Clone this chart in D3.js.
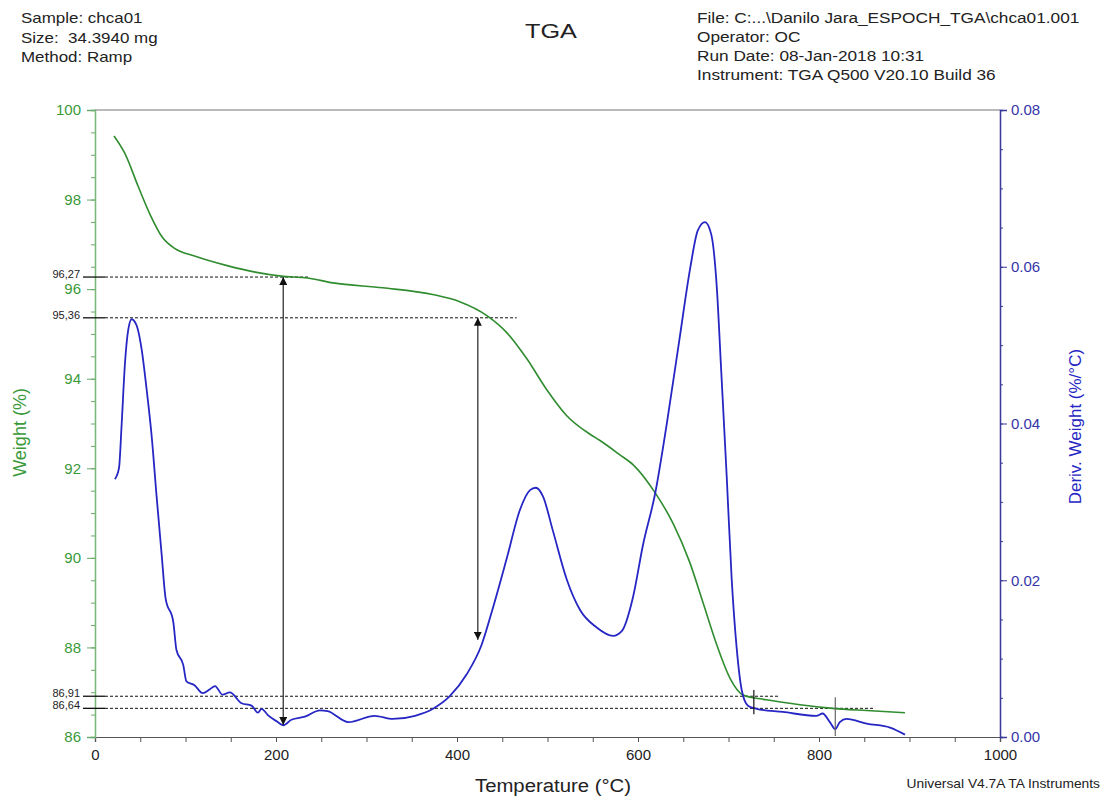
<!DOCTYPE html>
<html>
<head>
<meta charset="utf-8">
<script src="https://cdn.jsdelivr.net/npm/d3@7"></script>
<style>
  body { margin: 0; background: #fff; }
  svg { font-family: "Liberation Sans", Arial, sans-serif; }
</style>
</head>
<body>
<svg width="1108" height="798"></svg>
<script>
// weight curve (temperature °C, weight %)
var tgaTemp = [21, 33, 48, 61, 74, 88, 110, 147, 177, 206, 235, 263, 318, 373, 403, 433, 455, 477, 499, 521, 547, 558, 580, 595, 619, 639, 657, 672, 687, 702, 716, 742, 779, 815, 853, 895];
var tgaWeight = [99.42, 99.03, 98.28, 97.66, 97.17, 96.91, 96.74, 96.52, 96.38, 96.29, 96.25, 96.14, 96.03, 95.88, 95.72, 95.41, 95.03, 94.45, 93.76, 93.18, 92.76, 92.62, 92.30, 92.07, 91.45, 90.76, 89.91, 88.99, 88.06, 87.30, 86.94, 86.83, 86.72, 86.64, 86.59, 86.54];

// derivative curve (temperature °C, %/°C)
var dtgTemp = [22, 26.5, 29.5, 33, 36.8, 40.5, 46, 51.5, 57, 62.6, 68, 73.7, 78, 86.5, 90, 97.5, 101, 110, 119, 127, 132.6, 141, 149, 162, 173, 180, 184, 191, 200.7, 208, 217, 232, 248.6, 257, 280, 309, 329, 353.6, 373.5, 392, 410.7, 427, 440, 455, 469.6, 480.7, 487, 495, 506, 521, 536, 554, 572.5, 582, 594.6, 605.5, 619, 631.7, 646, 657.5, 666, 674, 681, 687, 692, 698, 703.5, 709, 714.6, 721.5, 731, 760, 797, 804, 812, 818, 823, 830.5, 852.7, 878.5, 895];
var dtgValue = [0.0329, 0.0343, 0.0400, 0.0475, 0.0520, 0.0533, 0.0525, 0.0495, 0.0444, 0.0384, 0.0308, 0.0232, 0.0177, 0.0147, 0.0111, 0.0092, 0.0071, 0.0066, 0.0056, 0.0061, 0.0065, 0.0054, 0.0057, 0.0043, 0.0040, 0.0031, 0.0036, 0.0028, 0.0020, 0.0015, 0.0022, 0.0026, 0.0034, 0.0033, 0.0019, 0.0027, 0.0023, 0.0027, 0.0036, 0.0052, 0.0080, 0.0117, 0.0166, 0.0228, 0.0290, 0.0315, 0.0318, 0.0307, 0.0263, 0.0202, 0.0162, 0.0140, 0.0129, 0.0135, 0.0179, 0.0245, 0.0311, 0.0399, 0.0509, 0.0597, 0.0646, 0.0657, 0.0641, 0.0575, 0.0466, 0.0333, 0.0202, 0.0114, 0.0060, 0.0040, 0.0036, 0.0032, 0.0027, 0.0030, 0.0019, 0.0010, 0.0019, 0.0023, 0.0017, 0.0012, 0.0003];

var xTicks = [0, 200, 400, 600, 800, 1000];
var weightTicks = [86, 88, 90, 92, 94, 96, 98, 100];
var derivTicks = [0.00, 0.02, 0.04, 0.06, 0.08];

// horizontal reference levels (weight %)
var levelValues = [96.27, 95.36, 86.91, 86.64];
var levelLabels = ["96,27", "95,36", "86,91", "86,64"];
var levelEnds = [237, 466, 757, 862];

// double arrows (temperature, from weight, to weight)
var arrowTemp = [208, 423];
var arrowFrom = [96.27, 95.36];
var arrowTo = [86.27, 88.17];

// vertical onset markers (temperature, top weight, bottom weight)
var markerTemp = [728, 818];
var markerTop = [87.05, 86.89];
var markerBottom = [86.51, 86.02];

var headerLeft = ["Sample: chca01", "Size:  34.3940 mg", "Method: Ramp"];
var headerRight = ["File: C:...\\Danilo Jara_ESPOCH_TGA\\chca01.001", "Operator: OC", "Run Date: 08-Jan-2018 10:31", "Instrument: TGA Q500 V20.10 Build 36"];

var green = "#2f8c2f", greenText = "#3a9a3a", blue = "#2626c4";

var svg = d3.select("svg"),
    margin = {top: 110, right: 108, bottom: 61, left: 95},
    width = +svg.attr("width") - margin.left - margin.right,
    height = +svg.attr("height") - margin.top - margin.bottom,
    g = svg.append("g").attr("transform", "translate(" + margin.left + "," + margin.top + ")");

var x = d3.scaleLinear().domain([0, 1000]).range([0, width]);
var yW = d3.scaleLinear().domain([86, 100]).range([height, 0]);
var yD = d3.scaleLinear().domain([0, 0.08]).range([height, 0]);

// header (the printout is a little stretched sideways)
svg.selectAll(".hl").data(headerLeft).enter().append("text")
    .attr("transform", function(d, i) { return "translate(21," + (23 + i * 19.5) + ") scale(1.13,1)"; })
    .attr("font-size", "15px").attr("fill", "#222").style("white-space", "pre")
    .text(function(d) { return d; });
svg.selectAll(".hr").data(headerRight).enter().append("text")
    .attr("transform", function(d, i) { return "translate(697," + (23 + i * 19) + ") scale(1.15,1)"; })
    .attr("font-size", "15px").attr("fill", "#222")
    .text(function(d) { return d; });
svg.append("text").attr("transform", "translate(551,38) scale(1.2,1)").attr("text-anchor", "middle")
    .attr("font-size", "21px").attr("fill", "#222").text("TGA");

// top frame
g.append("line").attr("x1", 0).attr("x2", width).attr("y1", 0).attr("y2", 0)
    .attr("stroke", "#777").attr("stroke-width", 1.2);

// bottom axis
var xMinor = g.append("g").attr("transform", "translate(0," + height + ")")
    .call(d3.axisBottom(x).tickValues(d3.range(0, 1001, 50)).tickSize(5).tickFormat(""));
var xAxis = g.append("g").attr("transform", "translate(0," + height + ")")
    .call(d3.axisBottom(x).tickValues(xTicks).tickSize(5).tickFormat(d3.format("d")));
xAxis.selectAll("text").attr("font-size", "15px").attr("fill", "#222").attr("dy", "1.0em");
[xMinor, xAxis].forEach(function(a) {
  a.select(".domain").attr("stroke", "#555").attr("stroke-width", 1.2);
  a.selectAll(".tick line").attr("stroke", "#555");
});

// left axis
var wMinor = g.append("g")
    .call(d3.axisLeft(yW).tickValues(d3.range(86, 100.01, 0.5)).tickSize(4).tickFormat(""));
var wAxis = g.append("g")
    .call(d3.axisLeft(yW).tickValues(weightTicks).tickSize(8).tickFormat(d3.format("d")));
wAxis.selectAll("text").attr("font-size", "15px").attr("fill", greenText).attr("x", -14);
[wMinor, wAxis].forEach(function(a) {
  a.select(".domain").attr("stroke", "#7ab87a").attr("stroke-width", 1.3);
  a.selectAll(".tick line").attr("stroke", "#6aa86a");
});

// right axis
var dMinor = g.append("g").attr("transform", "translate(" + width + ",0)")
    .call(d3.axisRight(yD).tickValues(d3.range(0, 0.0801, 0.005)).tickSize(3).tickFormat(""));
var dAxis = g.append("g").attr("transform", "translate(" + width + ",0)")
    .call(d3.axisRight(yD).tickValues(derivTicks).tickSize(7).tickFormat(d3.format(".2f")));
dAxis.selectAll("text").attr("font-size", "15px").attr("fill", "#3535a8").attr("x", 11);
[dMinor, dAxis].forEach(function(a) {
  a.select(".domain").attr("stroke", "#3a3a9a").attr("stroke-width", 1.3);
  a.selectAll(".tick line").attr("stroke", "#3a3a9a");
});

// axis titles
svg.append("text")
    .attr("transform", "translate(26," + (margin.top + yW(92.8)) + ") rotate(-90)")
    .attr("text-anchor", "middle").attr("font-size", "18px").attr("fill", greenText)
    .text("Weight (%)");
svg.append("text")
    .attr("transform", "translate(1081," + (margin.top + yD(0.0396)) + ") rotate(-90)")
    .attr("text-anchor", "middle").attr("font-size", "17px").attr("fill", blue)
    .text("Deriv. Weight (%/°C)");
svg.append("text").attr("transform", "translate(553,792) scale(1.13,1)").attr("text-anchor", "middle")
    .attr("font-size", "18px").attr("fill", "#222").text("Temperature (°C)");
svg.append("text").attr("transform", "translate(1100,788) scale(1.15,1)").attr("text-anchor", "end")
    .attr("font-size", "12px").attr("fill", "#222").text("Universal V4.7A TA Instruments");

// reference levels
var levels = levelValues.map(function(v, i) {
  return {v: v, label: levelLabels[i], end: levelEnds[i]};
});
g.selectAll(".lvl-dash").data(levels).enter().append("line")
    .attr("x1", 10).attr("x2", function(d) { return x(d.end); })
    .attr("y1", function(d) { return yW(d.v); }).attr("y2", function(d) { return yW(d.v); })
    .attr("stroke", "#111").attr("stroke-width", 1).attr("stroke-dasharray", "3,2");
g.selectAll(".lvl-solid").data(levels).enter().append("line")
    .attr("x1", -12).attr("x2", 10)
    .attr("y1", function(d) { return yW(d.v); }).attr("y2", function(d) { return yW(d.v); })
    .attr("stroke", "#111").attr("stroke-width", 1.3);
g.selectAll(".lvl-label").data(levels).enter().append("text")
    .attr("x", -15).attr("y", function(d) { return yW(d.v); }).attr("dy", "0.1em")
    .attr("text-anchor", "end").attr("font-size", "11px").attr("fill", "#222")
    .text(function(d) { return d.label; });

// curves
var weightLine = d3.line()
    .x(function(d) { return x(d[0]); })
    .y(function(d) { return yW(d[1]); })
    .curve(d3.curveMonotoneX);
var derivLine = d3.line()
    .x(function(d) { return x(d[0]); })
    .y(function(d) { return yD(d[1]); })
    .curve(d3.curveMonotoneX);

g.append("path")
    .datum(tgaTemp.map(function(t, i) { return [t, tgaWeight[i]]; }))
    .attr("d", weightLine)
    .attr("fill", "none").attr("stroke", green).attr("stroke-width", 1.6);
g.append("path")
    .datum(dtgTemp.map(function(t, i) { return [t, dtgValue[i]]; }))
    .attr("d", derivLine)
    .attr("fill", "none").attr("stroke", blue).attr("stroke-width", 1.8);

// onset markers
g.selectAll(".marker").data(markerTemp).enter().append("line")
    .attr("x1", function(d) { return x(d); }).attr("x2", function(d) { return x(d); })
    .attr("y1", function(d, i) { return yW(markerTop[i]); })
    .attr("y2", function(d, i) { return yW(markerBottom[i]); })
    .attr("stroke", function(d, i) { return i ? "#666" : "#111"; }).attr("stroke-width", 1.2);

// arrows
var defs = svg.append("defs");
defs.append("marker").attr("id", "ahead")
    .attr("viewBox", "0 0 10 10").attr("refX", 10).attr("refY", 5)
    .attr("markerWidth", 8).attr("markerHeight", 8).attr("markerUnits", "userSpaceOnUse")
    .attr("orient", "auto-start-reverse")
  .append("path").attr("d", "M0,0 L10,5 L0,10 Z").attr("fill", "#111");

g.selectAll(".arrow").data(arrowTemp).enter().append("line")
    .attr("x1", function(d) { return x(d); }).attr("x2", function(d) { return x(d); })
    .attr("y1", function(d, i) { return yW(arrowFrom[i]); })
    .attr("y2", function(d, i) { return yW(arrowTo[i]); })
    .attr("stroke", "#333").attr("stroke-width", 1.3)
    .attr("marker-start", "url(#ahead)").attr("marker-end", "url(#ahead)");
</script>
</body>
</html>
